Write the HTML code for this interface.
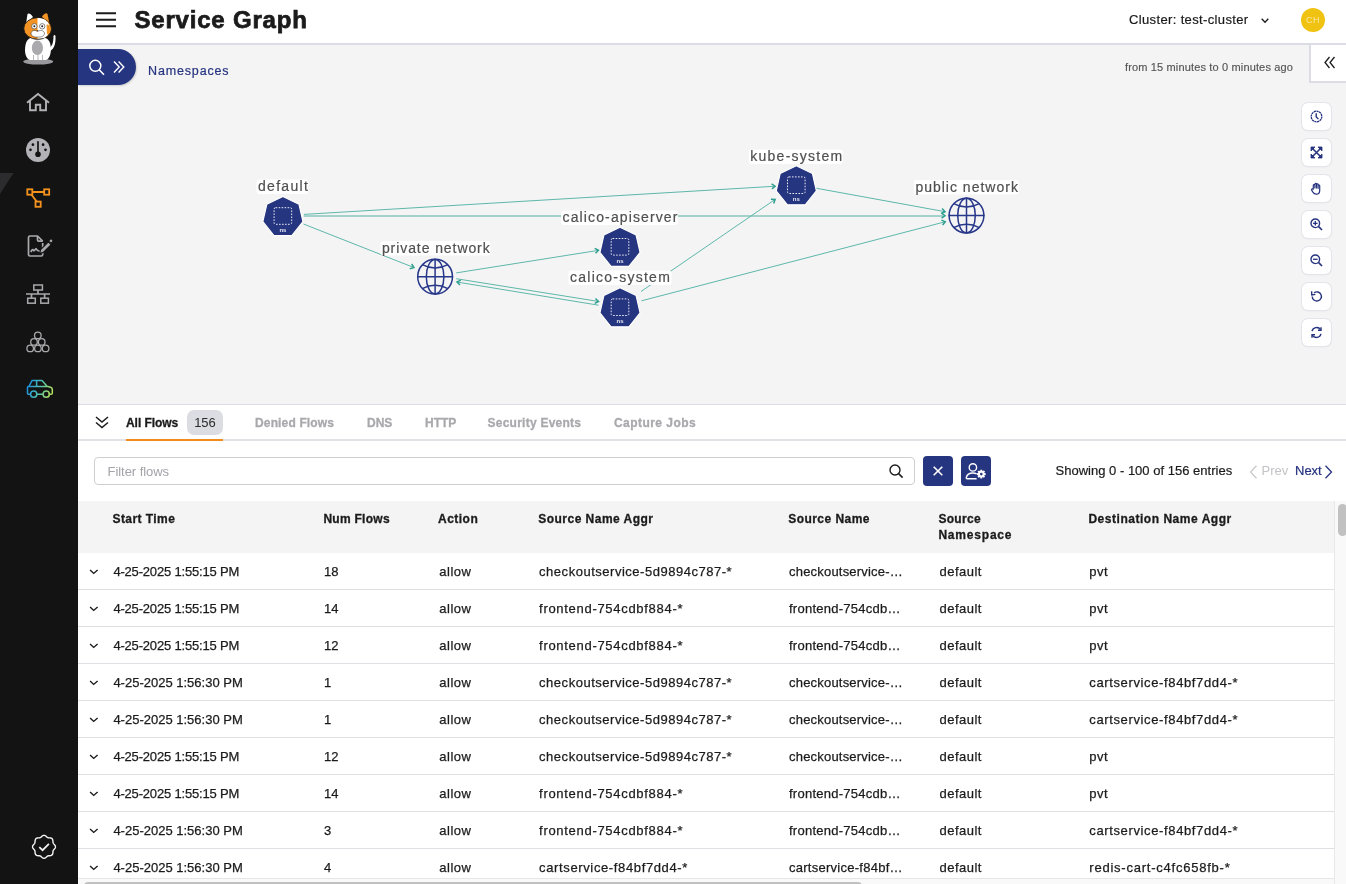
<!DOCTYPE html>
<html><head><meta charset="utf-8">
<style>
*{box-sizing:border-box;margin:0;padding:0}
html,body{width:1346px;height:884px;overflow:hidden;background:#fff;font-family:"Liberation Sans",sans-serif;color:#1b1b1b}
.a{position:absolute;white-space:nowrap}
#side{position:absolute;left:0;top:0;width:78px;height:884px;background:#131313}
#hdr{position:absolute;z-index:2;left:78px;top:0;width:1268px;height:45px;background:#fff;border-bottom:2px solid #dcdce4}
#graph{position:absolute;left:78px;top:44px;width:1268px;height:360px;background:#f4f4f4}
#tabs{position:absolute;left:78px;top:404px;width:1268px;height:37px;background:#fff;border-top:1.5px solid #dcdce4;border-bottom:2px solid #e2e2e6}
.tab{position:absolute;top:10.5px;font-size:12px;font-weight:700;color:#a9a9ad;-webkit-text-stroke:0.3px currentColor}
.btn{position:absolute;left:1301px;width:29px;height:27px;background:#fff;border-radius:6px;box-shadow:0 0 0 1px #e4e4ea,0 1px 2px rgba(0,0,0,.08)}
.btn svg{position:absolute;left:8px;top:7px}
#thead{position:absolute;left:78px;top:501px;width:1256px;height:52px;background:#f4f4f4}
.th{position:absolute;font-size:12px;font-weight:700;color:#1b1b1b;line-height:16px;-webkit-text-stroke:0.3px #1b1b1b}
.row{position:absolute;left:78px;width:1256px;height:37px;border-bottom:1.5px solid #e0e0e4;background:#fff}
.td{position:absolute;top:11px;font-size:13px;color:#1b1b1b;-webkit-text-stroke:0.25px #1b1b1b}
.chev{position:absolute;left:11px;top:15px}
</style></head><body><div style="position:absolute;left:0;top:0;width:1346px;height:884px;will-change:transform">

<div id="side"><svg width="78" height="884" viewBox="0 0 78 884" style="position:absolute;left:0;top:0">
<defs><linearGradient id="cg" gradientUnits="userSpaceOnUse" x1="28" y1="384" x2="52" y2="392"><stop offset="0" stop-color="#1a90e4"/><stop offset="0.5" stop-color="#52bfb0"/><stop offset="1" stop-color="#b2e35c"/></linearGradient></defs>
<!-- cat -->
<ellipse cx="38.2" cy="61.6" rx="15" ry="3" fill="#9a9a9e"/>
<path d="M30 60 C24 58 24.5 48 26 43 C27.5 38.5 31 37 38 37 C45 37 48.5 38.5 50 43 C51.5 48 51.5 58 46 60 Z" fill="#fff"/>
<path d="M48.5 52 C53 50 56 46 55.5 36 C55 34.5 54 34.5 53.5 36 C53.5 43 52 47 48 49 Z" fill="#fff"/>
<ellipse cx="37.4" cy="47.8" rx="5.6" ry="7.2" fill="#a9a9ae"/>
<path d="M33.5 60 L33.5 55 M38 60 L38 55 M42.5 60 L42.5 55" stroke="#888" stroke-width="0.6"/>
<path d="M26 24 L27.5 14 C28.5 13 30.5 13 33 17 Z" fill="#fff"/>
<path d="M42 17 C44 13 46.5 12.5 47.5 14 L49.5 24 Z" fill="#f39324"/>
<ellipse cx="37.6" cy="28.5" rx="13.8" ry="10.8" fill="#f39324" stroke="#131313" stroke-width="0.8"/>
<path d="M37.5 18 C42 18 47 19.5 48.8 24 C50 28 49.5 33 47 36 C44 38.5 40 39 37.5 38.5 Z" fill="#fff"/>
<path d="M46.5 24.5 C49.5 24 51 27.5 50.5 31 C50 33.5 48.5 34.8 47 34 Z" fill="#f39324"/>
<path d="M31 33 C32 30 35 30 37.5 31.5 C40 30 43.5 30 44.5 33 C44.5 36 41.5 37.5 37.5 37 C33.5 37.5 31 36 31 33 Z" fill="#fff" stroke="#222" stroke-width="0.5"/>
<circle cx="34.3" cy="26.3" r="2.7" fill="#fff" stroke="#333" stroke-width="0.6"/><circle cx="34.3" cy="26.3" r="1" fill="#222"/>
<circle cx="42.2" cy="26.3" r="2.7" fill="#fff" stroke="#333" stroke-width="0.6"/><circle cx="42.2" cy="26.3" r="1" fill="#222"/>
<path d="M36.5 30.3 L38.5 30.3 L37.5 31.5 Z" fill="#222"/>
<path d="M33 38.5 C36 39.5 40 39.5 43 38.5" stroke="#555" stroke-width="0.7" fill="none"/>
<!-- active marker -->
<path d="M0 173 L13.6 173 L0 194 Z" fill="#2c2c2e"/>
<!-- home -->
<path d="M27 102.8 L38 94 L49 102.8 M30 100.6 V110.3 H35.8 V104.8 H40.2 V110.3 H46 V100.6" fill="none" stroke="#b2b2b6" stroke-width="1.9" stroke-linejoin="miter"/>
<!-- gauge -->
<circle cx="38" cy="150" r="12" fill="#b3b3b7"/>
<path d="M38 141.8 V153" stroke="#131313" stroke-width="1.7" stroke-linecap="round"/>
<circle cx="38" cy="154.3" r="2.8" fill="#131313"/>
<circle cx="32.9" cy="144.7" r="1.35" fill="#131313"/><circle cx="43.1" cy="144.7" r="1.35" fill="#131313"/>
<circle cx="30.5" cy="149.8" r="1.35" fill="#131313"/><circle cx="45.5" cy="149.8" r="1.35" fill="#131313"/>
<!-- service graph (active, orange) -->
<g fill="none" stroke="#f5921e" stroke-width="1.8">
<rect x="27.3" y="189.3" width="5" height="5.4"/>
<rect x="44.2" y="189.3" width="5" height="5.4"/>
<rect x="35.5" y="201.6" width="5.2" height="5.2"/>
<path d="M32.3 192 H44.2 M31.5 194.7 L36.8 201.6"/>
</g>
<!-- doc sign -->
<g fill="none" stroke="#a9a9ad" stroke-width="1.7" stroke-linejoin="round">
<path d="M42.7 243 V254.6 C42.7 255.6 42.2 256 41.2 256 H30 C29 256 28.5 255.5 28.5 254.5 V237.5 C28.5 236.5 29 236 30 236 H37.5 L42.7 241.2"/>
<path d="M37.5 236 V240 C37.5 240.8 37.9 241.2 38.7 241.2 H42.7"/>
<path d="M30.8 252 C31.8 250 32.5 248.7 33.5 250.2 C34.3 251.5 35 249.3 36 248.7 C37 250.5 38 251.5 40 251.2"/>
</g>
<path d="M39.6 253.6 L40.6 249.6 L48.4 241.8 L51.2 244.6 L43.4 252.4 Z" fill="#a9a9ad" stroke="#131313" stroke-width="1.2" stroke-linejoin="round"/>
<path d="M49.3 240.9 L50.3 239.9 C50.8 239.4 51.4 239.4 51.9 239.9 L52 240 C52.5 240.5 52.5 241.1 52 241.6 L51 242.6 Z" fill="#a9a9ad"/>
<!-- network -->
<g fill="none" stroke="#a9a9ad" stroke-width="1.5">
<rect x="33.8" y="285" width="8.6" height="5"/>
<rect x="27.7" y="298.2" width="7.6" height="5"/>
<rect x="40.8" y="298.2" width="7.6" height="5"/>
<path d="M38 290 V294 M26 294 H50 M31.5 294 V298.2 M44.6 294 V298.2" stroke-width="1.7"/>
</g>
<!-- pyramid circles -->
<g fill="none" stroke="#a9a9ad" stroke-width="1.3">
<circle cx="37.8" cy="335.4" r="3.3"/>
<circle cx="34" cy="341.9" r="3.3"/><circle cx="41.7" cy="341.9" r="3.3"/>
<circle cx="30.2" cy="348.4" r="3.3"/><circle cx="37.9" cy="348.4" r="3.3"/><circle cx="45.6" cy="348.4" r="3.3"/>
</g>
<!-- car -->
<g fill="none" stroke="url(#cg)" stroke-width="1.5" stroke-linejoin="round">
<path d="M30.5 394.3 H28.5 C27.8 394.3 27.5 394 27.5 393.3 V387.5 C27.5 386.8 28 386.3 29 386.3 L32 380.5 H42 L47 386.3 L50.5 387.3 C51.8 387.7 52.3 388.5 52.3 389.5 V393 C52.3 393.8 51.8 394.3 51 394.3 H49.3 M37 394.3 H43"/>
<path d="M29 386.6 H47 M36.6 380.5 V386.6"/>
<circle cx="33.7" cy="394.2" r="3.1"/><circle cx="46.2" cy="394.2" r="3.1"/>
</g>
<!-- badge check -->
<path d="M44.00 835.35 L44.45 835.40 L44.89 835.53 L45.31 835.74 L45.71 836.00 L46.09 836.31 L46.44 836.62 L46.78 836.93 L47.12 837.20 L47.46 837.43 L47.81 837.61 L48.18 837.73 L48.58 837.81 L49.01 837.85 L49.47 837.87 L49.94 837.90 L50.43 837.96 L50.90 838.05 L51.34 838.20 L51.75 838.42 L52.10 838.70 L52.38 839.05 L52.60 839.46 L52.75 839.90 L52.84 840.37 L52.90 840.86 L52.93 841.33 L52.95 841.79 L52.99 842.22 L53.07 842.62 L53.19 842.99 L53.37 843.34 L53.60 843.68 L53.87 844.02 L54.18 844.36 L54.49 844.71 L54.80 845.09 L55.06 845.49 L55.27 845.91 L55.40 846.35 L55.45 846.80 L55.40 847.25 L55.27 847.69 L55.06 848.11 L54.80 848.51 L54.49 848.89 L54.18 849.24 L53.87 849.58 L53.60 849.92 L53.37 850.26 L53.19 850.61 L53.07 850.98 L52.99 851.38 L52.95 851.81 L52.93 852.27 L52.90 852.74 L52.84 853.23 L52.75 853.70 L52.60 854.14 L52.38 854.55 L52.10 854.90 L51.75 855.18 L51.34 855.40 L50.90 855.55 L50.43 855.64 L49.94 855.70 L49.47 855.73 L49.01 855.75 L48.58 855.79 L48.18 855.87 L47.81 855.99 L47.46 856.17 L47.12 856.40 L46.78 856.67 L46.44 856.98 L46.09 857.29 L45.71 857.60 L45.31 857.86 L44.89 858.07 L44.45 858.20 L44.00 858.25 L43.55 858.20 L43.11 858.07 L42.69 857.86 L42.29 857.60 L41.91 857.29 L41.56 856.98 L41.22 856.67 L40.88 856.40 L40.54 856.17 L40.19 855.99 L39.82 855.87 L39.42 855.79 L38.99 855.75 L38.53 855.73 L38.06 855.70 L37.57 855.64 L37.10 855.55 L36.66 855.40 L36.25 855.18 L35.90 854.90 L35.62 854.55 L35.40 854.14 L35.25 853.70 L35.16 853.23 L35.10 852.74 L35.07 852.27 L35.05 851.81 L35.01 851.38 L34.93 850.98 L34.81 850.61 L34.63 850.26 L34.40 849.92 L34.13 849.58 L33.82 849.24 L33.51 848.89 L33.20 848.51 L32.94 848.11 L32.73 847.69 L32.60 847.25 L32.55 846.80 L32.60 846.35 L32.73 845.91 L32.94 845.49 L33.20 845.09 L33.51 844.71 L33.82 844.36 L34.13 844.02 L34.40 843.68 L34.63 843.34 L34.81 842.99 L34.93 842.62 L35.01 842.22 L35.05 841.79 L35.07 841.33 L35.10 840.86 L35.16 840.37 L35.25 839.90 L35.40 839.46 L35.62 839.05 L35.90 838.70 L36.25 838.42 L36.66 838.20 L37.10 838.05 L37.57 837.96 L38.06 837.90 L38.53 837.87 L38.99 837.85 L39.42 837.81 L39.82 837.73 L40.19 837.61 L40.54 837.43 L40.88 837.20 L41.22 836.93 L41.56 836.62 L41.91 836.31 L42.29 836.00 L42.69 835.74 L43.11 835.53 L43.55 835.40 L44.00 835.35 Z" fill="none" stroke="#f4f4f4" stroke-width="1.4" stroke-linejoin="round"/>
<path d="M39.3 847.2 L42.6 850.2 L48.9 843.8" fill="none" stroke="#f4f4f4" stroke-width="1.7"/>
</svg></div>
<div id="hdr">
<svg class="a" style="left:18px;top:12px" width="20" height="16" viewBox="0 0 20 16"><path d="M0 1.3H20M0 7.8H20M0 14.3H20" stroke="#1b1b1b" stroke-width="2"/></svg>
<div class="a" style="left:56.5px;top:6px;font-size:24px;font-weight:700;letter-spacing:0.8px;color:#1b1b1b;line-height:28px;-webkit-text-stroke:0.75px #1b1b1b">Service Graph</div>
<div class="a" style="left:1051px;top:12px;font-size:13px;letter-spacing:0.36px;color:#1b1b1b;line-height:16px;-webkit-text-stroke:0.2px #1b1b1b">Cluster: test-cluster</div>
<svg class="a" style="left:1183px;top:17.5px" width="8" height="6" viewBox="0 0 8 6"><path d="M0.7 0.7L4 4.2L7.3 0.7" fill="none" stroke="#1b1b1b" stroke-width="1.3"/></svg>
<div class="a" style="left:1223px;top:8px;width:24px;height:24px;border-radius:50%;background:#f0c312;color:#f9e7a0;font-size:9px;letter-spacing:0.4px;line-height:24px;text-align:center">CH</div>
</div>
<div id="graph"><!--G--><svg style="position:absolute;left:0;top:0" width="1268" height="360" viewBox="78 44 1268 360">
<path d="M303.9 214.4 L774.1 186.3" stroke="#5db7aa" stroke-width="1.0" fill="none"/><path d="M771.9 188.9 L775.1 186.2 L771.6 183.9" stroke="#2f9f8f" stroke-width="1.5" fill="none" stroke-linejoin="miter"/><path d="M303.7 215.9 H943" stroke="#a3d2cb" stroke-width="2"/><path d="M941.6 218.2 L945.0 215.7 L941.6 213.2" stroke="#2f9f8f" stroke-width="1.5" fill="none" stroke-linejoin="miter"/><path d="M303.5 224.0 L413.0 267.2" stroke="#5db7aa" stroke-width="1.0" fill="none"/><path d="M409.8 268.7 L413.9 267.6 L411.7 264.0" stroke="#2f9f8f" stroke-width="1.5" fill="none" stroke-linejoin="miter"/><path d="M456.2 272.9 L597.5 250.5" stroke="#5db7aa" stroke-width="1.0" fill="none"/><path d="M595.5 253.3 L598.5 250.3 L594.7 248.4" stroke="#2f9f8f" stroke-width="1.5" fill="none" stroke-linejoin="miter"/><path d="M456.2 278.7 L597.5 301.3" stroke="#5db7aa" stroke-width="1.0" fill="none"/><path d="M594.7 303.4 L598.5 301.5 L595.5 298.5" stroke="#2f9f8f" stroke-width="1.5" fill="none" stroke-linejoin="miter"/><path d="M598.5 305.2 L458.0 282.2" stroke="#5db7aa" stroke-width="1.0" fill="none"/><path d="M460.8 280.1 L457.0 282.0 L460.0 285.0" stroke="#2f9f8f" stroke-width="1.5" fill="none" stroke-linejoin="miter"/><path d="M641.0 291.5 L774.3 200.0" stroke="#5db7aa" stroke-width="1.0" fill="none"/><path d="M773.7 203.4 L775.1 199.4 L770.9 199.3" stroke="#2f9f8f" stroke-width="1.5" fill="none" stroke-linejoin="miter"/><path d="M641.5 300.8 L944.3 222.0" stroke="#5db7aa" stroke-width="1.0" fill="none"/><path d="M942.6 225.0 L945.3 221.7 L941.4 220.1" stroke="#2f9f8f" stroke-width="1.5" fill="none" stroke-linejoin="miter"/><path d="M815.0 188.0 L944.0 211.5" stroke="#5db7aa" stroke-width="1.0" fill="none"/><path d="M941.2 213.5 L945.0 211.7 L942.1 208.6" stroke="#2f9f8f" stroke-width="1.5" fill="none" stroke-linejoin="miter"/>
<rect x="256.5" y="179.5" width="52" height="14.5" rx="3" fill="#fff" fill-opacity="0.95"/>
<text x="258" y="191" font-size="14" fill="#505050" stroke="#505050" stroke-width="0.2" letter-spacing="1.3" font-family="Liberation Sans">default</text><rect x="748.8" y="149.5" width="94" height="14.5" rx="3" fill="#fff" fill-opacity="0.95"/>
<text x="750.3" y="161" font-size="14" fill="#505050" stroke="#505050" stroke-width="0.2" letter-spacing="1.25" font-family="Liberation Sans">kube-system</text><rect x="913.9" y="180.0" width="105" height="14.5" rx="3" fill="#fff" fill-opacity="0.95"/>
<text x="915.4" y="191.5" font-size="14" fill="#505050" stroke="#505050" stroke-width="0.2" letter-spacing="1.0" font-family="Liberation Sans">public network</text><rect x="380.4" y="241.0" width="110" height="14.5" rx="3" fill="#fff" fill-opacity="0.95"/>
<text x="381.9" y="252.5" font-size="14" fill="#505050" stroke="#505050" stroke-width="0.2" letter-spacing="0.92" font-family="Liberation Sans">private network</text><rect x="561.1" y="210.5" width="117" height="14.5" rx="3" fill="#fff" fill-opacity="0.95"/>
<text x="562.6" y="222" font-size="14" fill="#505050" stroke="#505050" stroke-width="0.2" letter-spacing="1.12" font-family="Liberation Sans">calico-apiserver</text><rect x="568.5" y="270.5" width="103" height="14.5" rx="3" fill="#fff" fill-opacity="0.95"/>
<text x="570" y="282" font-size="14" fill="#505050" stroke="#505050" stroke-width="0.2" letter-spacing="1.25" font-family="Liberation Sans">calico-system</text>
<path d="M282.90 196.50 L299.01 204.26 L302.98 221.68 L291.84 235.66 L273.96 235.66 L262.82 221.68 L266.79 204.26 Z" fill="#263580" stroke="#fff" stroke-width="1.2" stroke-linejoin="round"/>
<rect x="274.1" y="207.7" width="17.6" height="16.6" rx="1.5" fill="none" stroke="#e8eaf4" stroke-width="1" stroke-dasharray="1.6 1.4"/>
<text x="282.9" y="232.1" font-size="6" font-weight="700" fill="#e6e8f2" text-anchor="middle" font-family="Liberation Sans">ns</text><path d="M796.30 165.70 L812.41 173.46 L816.38 190.88 L805.24 204.86 L787.36 204.86 L776.22 190.88 L780.19 173.46 Z" fill="#263580" stroke="#fff" stroke-width="1.2" stroke-linejoin="round"/>
<rect x="787.5" y="176.9" width="17.6" height="16.6" rx="1.5" fill="none" stroke="#e8eaf4" stroke-width="1" stroke-dasharray="1.6 1.4"/>
<text x="796.3" y="201.3" font-size="6" font-weight="700" fill="#e6e8f2" text-anchor="middle" font-family="Liberation Sans">ns</text><path d="M620.00 227.30 L636.11 235.06 L640.08 252.48 L628.94 266.46 L611.06 266.46 L599.92 252.48 L603.89 235.06 Z" fill="#263580" stroke="#fff" stroke-width="1.2" stroke-linejoin="round"/>
<rect x="611.2" y="238.5" width="17.6" height="16.6" rx="1.5" fill="none" stroke="#e8eaf4" stroke-width="1" stroke-dasharray="1.6 1.4"/>
<text x="620.0" y="262.9" font-size="6" font-weight="700" fill="#e6e8f2" text-anchor="middle" font-family="Liberation Sans">ns</text><path d="M620.00 287.70 L636.11 295.46 L640.08 312.88 L628.94 326.86 L611.06 326.86 L599.92 312.88 L603.89 295.46 Z" fill="#263580" stroke="#fff" stroke-width="1.2" stroke-linejoin="round"/>
<rect x="611.2" y="298.9" width="17.6" height="16.6" rx="1.5" fill="none" stroke="#e8eaf4" stroke-width="1" stroke-dasharray="1.6 1.4"/>
<text x="620.0" y="323.3" font-size="6" font-weight="700" fill="#e6e8f2" text-anchor="middle" font-family="Liberation Sans">ns</text><g fill="none" stroke="#27378a" stroke-width="1.5">
<circle cx="435.1" cy="276.7" r="17.4"/>
<ellipse cx="435.1" cy="276.7" rx="8.8" ry="17.25"/>
<path d="M435.1 258.7 V294.7 M417.1 276.7 H453.1"/>
<path d="M422.3 264.7 Q435.1 271.5 447.90000000000003 264.7"/>
<path d="M422.3 288.7 Q435.1 281.9 447.90000000000003 288.7"/>
</g><g fill="none" stroke="#27378a" stroke-width="1.5">
<circle cx="966.5" cy="215.6" r="17.4"/>
<ellipse cx="966.5" cy="215.6" rx="8.8" ry="17.25"/>
<path d="M966.5 197.6 V233.6 M948.5 215.6 H984.5"/>
<path d="M953.7 203.6 Q966.5 210.4 979.3 203.6"/>
<path d="M953.7 227.6 Q966.5 220.79999999999998 979.3 227.6"/>
</g>
</svg><!--/G-->
<div class="a" style="left:0;top:5px;width:58px;height:36px;background:#263580;border-radius:0 18px 18px 0;box-shadow:1px 1px 2px rgba(0,0,0,.15)">
<svg class="a" style="left:10px;top:10px" width="40" height="18" viewBox="0 0 40 18"><circle cx="7.3" cy="6.8" r="5.5" fill="none" stroke="#fff" stroke-width="1.5"/><path d="M11.2 10.8 L16 15.8" stroke="#fff" stroke-width="1.6"/><path d="M26 2.4 L31.2 8 L26 13.6 M30.6 2.4 L35.8 8 L30.6 13.6" fill="none" stroke="#fff" stroke-width="1.4"/></svg>
</div>
<div class="a" style="left:70px;top:20px;font-size:12.5px;letter-spacing:0.85px;color:#26337f;line-height:15px;-webkit-text-stroke:0.2px #26337f">Namespaces</div>
<div class="a" style="left:1047px;top:16.2px;font-size:11px;letter-spacing:0.15px;color:#555;line-height:14px;-webkit-text-stroke:0.15px #555">from 15 minutes to 0 minutes ago</div>
<div class="btn" style="left:1224px;top:58.5px"><svg width="13" height="13" viewBox="0 0 13 13"><circle cx="6.5" cy="6.5" r="5.3" fill="none" stroke="#26337f" stroke-width="1.3" stroke-dasharray="2.2 0.5"/><path d="M6.2 3.3 V7 L8.4 9" fill="none" stroke="#26337f" stroke-width="1.4"/></svg></div>
<div class="btn" style="left:1224px;top:94.5px"><svg width="13" height="13" viewBox="0 0 13 13"><path d="M2 2 L11 11 M11 2 L2 11" stroke="#26337f" stroke-width="1.5"/><path d="M1 1 H5 L1 5 Z M12 1 V5 L8 1 Z M1 12 V8 L5 12 Z M12 12 H8 L12 8 Z" fill="#26337f" stroke="#26337f" stroke-width="0.8" stroke-linejoin="round"/></svg></div>
<div class="btn" style="left:1224px;top:130.5px"><svg width="13" height="13" viewBox="0 0 13 13"><path d="M3.3 7 V3.5 C3.3 2.4 4.9 2.4 4.9 3.5 V6 V2.2 C4.9 1.1 6.5 1.1 6.5 2.2 V6 V2.6 C6.5 1.5 8.1 1.5 8.1 2.6 V6.3 V3.8 C8.1 2.8 9.7 2.8 9.7 3.8 V8.5 C9.7 10.8 8.3 12.2 6.3 12.2 C4.5 12.2 3.6 11.3 2.7 9.9 L1.6 8 C1.2 7.2 2.4 6.4 3.1 7.3 Z" fill="none" stroke="#26337f" stroke-width="1.2" stroke-linejoin="round"/></svg></div>
<div class="btn" style="left:1224px;top:166.5px"><svg width="13" height="13" viewBox="0 0 13 13"><circle cx="5.3" cy="5.3" r="4.3" fill="none" stroke="#26337f" stroke-width="1.4"/><path d="M8.4 8.4 L12 12" stroke="#26337f" stroke-width="1.6"/><path d="M3 5.3 H7.6 M5.3 3 V7.6" stroke="#26337f" stroke-width="1.3"/></svg></div>
<div class="btn" style="left:1224px;top:202.5px"><svg width="13" height="13" viewBox="0 0 13 13"><circle cx="5.3" cy="5.3" r="4.3" fill="none" stroke="#26337f" stroke-width="1.4"/><path d="M8.4 8.4 L12 12" stroke="#26337f" stroke-width="1.6"/><path d="M3 5.3 H7.6" stroke="#26337f" stroke-width="1.3"/></svg></div>
<div class="btn" style="left:1224px;top:238.5px"><svg width="13" height="13" viewBox="0 0 13 13"><path d="M2.2 6.5 A4.6 4.6 0 1 0 4 2.8" fill="none" stroke="#26337f" stroke-width="1.4"/><path d="M1.6 1.3 L1.8 5 L5.4 4.4" fill="none" stroke="#26337f" stroke-width="1.4"/></svg></div>
<div class="btn" style="left:1224px;top:274.5px"><svg width="13" height="13" viewBox="0 0 13 13"><path d="M2 5.2 A4.8 4.8 0 0 1 10.6 3.6 M11 7.8 A4.8 4.8 0 0 1 2.4 9.4" fill="none" stroke="#26337f" stroke-width="1.4"/><path d="M11 1.2 V4.2 H8 M2 11.8 V8.8 H5" fill="none" stroke="#26337f" stroke-width="1.4"/></svg></div>
<div class="a" style="left:1231px;top:0;width:37px;height:38.5px;background:#fff;border-left:2px solid #dcdce4;border-bottom:2px solid #dcdce4">
<svg class="a" style="left:13px;top:12px" width="12" height="13" viewBox="0 0 12 13"><path d="M5.5 1 L1 6.5 L5.5 12 M10.5 1 L6 6.5 L10.5 12" fill="none" stroke="#1b1b1b" stroke-width="1.3"/></svg>
</div>
</div>
<div id="tabs">
<svg class="a" style="left:17px;top:11px" width="14" height="13" viewBox="0 0 14 13"><path d="M1 1 L7 6 L13 1 M1 6.5 L7 11.5 L13 6.5" fill="none" stroke="#1b1b1b" stroke-width="1.5"/></svg>
<div class="tab" style="left:48px;color:#1b1b1b;letter-spacing:-0.05px">All Flows</div>
<div class="a" style="left:109px;top:5px;width:36px;height:25px;border-radius:7px;background:#dcdde2;font-size:13px;line-height:25px;text-align:center;color:#2a2a2a">156</div>
<div class="a" style="left:48px;top:33.5px;width:97px;height:2px;background:#f28c1c"></div>
<div class="tab" style="left:177px;letter-spacing:0.15px">Denied Flows</div>
<div class="tab" style="left:289px">DNS</div>
<div class="tab" style="left:347px">HTTP</div>
<div class="tab" style="left:409.5px;letter-spacing:0.25px">Security Events</div>
<div class="tab" style="left:536px;letter-spacing:0.45px">Capture Jobs</div>
</div>
<div class="a" style="left:94px;top:457px;width:821px;height:28px;border:1px solid #cfcfd3;border-radius:4px;background:#fff">
<div class="a" style="left:12.5px;top:6px;font-size:13px;color:#a3a3a8;letter-spacing:-0.05px;line-height:15px">Filter flows</div>
<svg class="a" style="left:794px;top:6px" width="15" height="15" viewBox="0 0 15 15"><circle cx="6" cy="6" r="5" fill="none" stroke="#1b1b1b" stroke-width="1.4"/><path d="M9.6 9.6 L13.6 13.6" stroke="#1b1b1b" stroke-width="1.5"/></svg>
</div>
<div class="a" style="left:923px;top:456px;width:30px;height:30px;border-radius:4px;background:#263580">
<svg class="a" style="left:10px;top:10px" width="10" height="10" viewBox="0 0 10 10"><path d="M0.7 0.7 L9.3 9.3 M9.3 0.7 L0.7 9.3" stroke="#fff" stroke-width="1.6"/></svg>
</div>
<div class="a" style="left:961px;top:456px;width:30px;height:30px;border-radius:4px;background:#263580">
<svg class="a" style="left:4.2px;top:7px" width="21" height="17" viewBox="0 0 21 17"><circle cx="7.9" cy="4.4" r="3.7" fill="none" stroke="#fff" stroke-width="1.4"/><path d="M11.6 15.8 H2.2 C1.5 15.8 1.1 15.3 1.3 14.5 C2 11.7 4.5 10 7.9 10 C9.5 10 10.6 10.3 11.6 10.8" fill="none" stroke="#fff" stroke-width="1.4" stroke-linejoin="round"/><path d="M19.40 9.98 L20.72 10.26 L20.72 11.94 L19.40 12.22 L19.29 12.51 L20.02 13.63 L18.83 14.82 L17.71 14.09 L17.42 14.20 L17.14 15.52 L15.46 15.52 L15.18 14.20 L14.89 14.09 L13.77 14.82 L12.58 13.63 L13.31 12.51 L13.20 12.22 L11.88 11.94 L11.88 10.26 L13.20 9.98 L13.31 9.69 L12.58 8.57 L13.77 7.38 L14.89 8.11 L15.18 8.00 L15.46 6.68 L17.14 6.68 L17.42 8.00 L17.71 8.11 L18.83 7.38 L20.02 8.57 L19.29 9.69 Z" fill="#fff"/><circle cx="16.3" cy="11.1" r="1.3" fill="#263580"/></svg>
</div>
<div class="a" style="left:1055.5px;top:463px;font-size:13px;letter-spacing:0.01px;color:#1b1b1b;line-height:15px;-webkit-text-stroke:0.2px #1b1b1b">Showing 0 - 100 of 156 entries</div>
<svg class="a" style="left:1249px;top:465px" width="9" height="14" viewBox="0 0 9 14"><path d="M7.5 0.8 L1.5 7 L7.5 13.2" fill="none" stroke="#c9c9cd" stroke-width="1.3"/></svg>
<div class="a" style="left:1261.5px;top:463px;font-size:13px;color:#c4c4c8;line-height:15px">Prev</div>
<div class="a" style="left:1295px;top:463px;font-size:13px;color:#26337f;line-height:15px;-webkit-text-stroke:0.2px #26337f">Next</div>
<svg class="a" style="left:1324px;top:465px" width="9" height="14" viewBox="0 0 9 14"><path d="M1.5 0.8 L7.5 7 L1.5 13.2" fill="none" stroke="#26337f" stroke-width="1.3"/></svg>

<div id="thead">
<div class="th" style="left:34.5px;top:9.8px;letter-spacing:0.43px">Start Time</div>
<div class="th" style="left:245.4px;top:9.8px;letter-spacing:0.27px">Num Flows</div>
<div class="th" style="left:360px;top:9.8px;letter-spacing:0.48px">Action</div>
<div class="th" style="left:460.3px;top:9.8px;letter-spacing:0.47px">Source Name Aggr</div>
<div class="th" style="left:710.2px;top:9.8px;letter-spacing:0.46px">Source Name</div>
<div class="th" style="left:860.4px;top:9.8px;letter-spacing:0.3px">Source<br><span style="letter-spacing:0.8px">Namespace</span></div>
<div class="th" style="left:1010.4px;top:9.8px;letter-spacing:0.53px">Destination Name Aggr</div>
</div>
<div class="row" style="top:553px"><svg class="chev" width="11" height="7" viewBox="0 0 11 7"><path d="M1.1 1.9 L4.7 5.4 L8.6 1.9" fill="none" stroke="#1b1b1b" stroke-width="1.4"/></svg><div class="td" style="left:35.4px;letter-spacing:-0.185px">4-25-2025 1:55:15 PM</div><div class="td" style="left:246px;letter-spacing:0.1px">18</div><div class="td" style="left:361.3px;letter-spacing:0.48px">allow</div><div class="td" style="left:461.1px;letter-spacing:0.52px">checkoutservice-5d9894c787-*</div><div class="td" style="left:711px;letter-spacing:0.2px">checkoutservice-…</div><div class="td" style="left:861.6px;letter-spacing:0.47px">default</div><div class="td" style="left:1011.3px;letter-spacing:0.43px">pvt</div></div>
<div class="row" style="top:590px"><svg class="chev" width="11" height="7" viewBox="0 0 11 7"><path d="M1.1 1.9 L4.7 5.4 L8.6 1.9" fill="none" stroke="#1b1b1b" stroke-width="1.4"/></svg><div class="td" style="left:35.4px;letter-spacing:-0.185px">4-25-2025 1:55:15 PM</div><div class="td" style="left:246px;letter-spacing:0.1px">14</div><div class="td" style="left:361.3px;letter-spacing:0.48px">allow</div><div class="td" style="left:461.1px;letter-spacing:0.7px">frontend-754cdbf884-*</div><div class="td" style="left:711px;letter-spacing:0.26px">frontend-754cdb…</div><div class="td" style="left:861.6px;letter-spacing:0.47px">default</div><div class="td" style="left:1011.3px;letter-spacing:0.43px">pvt</div></div>
<div class="row" style="top:627px"><svg class="chev" width="11" height="7" viewBox="0 0 11 7"><path d="M1.1 1.9 L4.7 5.4 L8.6 1.9" fill="none" stroke="#1b1b1b" stroke-width="1.4"/></svg><div class="td" style="left:35.4px;letter-spacing:-0.185px">4-25-2025 1:55:15 PM</div><div class="td" style="left:246px;letter-spacing:0.1px">12</div><div class="td" style="left:361.3px;letter-spacing:0.48px">allow</div><div class="td" style="left:461.1px;letter-spacing:0.7px">frontend-754cdbf884-*</div><div class="td" style="left:711px;letter-spacing:0.26px">frontend-754cdb…</div><div class="td" style="left:861.6px;letter-spacing:0.47px">default</div><div class="td" style="left:1011.3px;letter-spacing:0.43px">pvt</div></div>
<div class="row" style="top:664px"><svg class="chev" width="11" height="7" viewBox="0 0 11 7"><path d="M1.1 1.9 L4.7 5.4 L8.6 1.9" fill="none" stroke="#1b1b1b" stroke-width="1.4"/></svg><div class="td" style="left:35.4px;letter-spacing:0px">4-25-2025 1:56:30 PM</div><div class="td" style="left:246px;letter-spacing:0.1px">1</div><div class="td" style="left:361.3px;letter-spacing:0.48px">allow</div><div class="td" style="left:461.1px;letter-spacing:0.52px">checkoutservice-5d9894c787-*</div><div class="td" style="left:711px;letter-spacing:0.2px">checkoutservice-…</div><div class="td" style="left:861.6px;letter-spacing:0.47px">default</div><div class="td" style="left:1011.3px;letter-spacing:0.63px">cartservice-f84bf7dd4-*</div></div>
<div class="row" style="top:701px"><svg class="chev" width="11" height="7" viewBox="0 0 11 7"><path d="M1.1 1.9 L4.7 5.4 L8.6 1.9" fill="none" stroke="#1b1b1b" stroke-width="1.4"/></svg><div class="td" style="left:35.4px;letter-spacing:0px">4-25-2025 1:56:30 PM</div><div class="td" style="left:246px;letter-spacing:0.1px">1</div><div class="td" style="left:361.3px;letter-spacing:0.48px">allow</div><div class="td" style="left:461.1px;letter-spacing:0.52px">checkoutservice-5d9894c787-*</div><div class="td" style="left:711px;letter-spacing:0.2px">checkoutservice-…</div><div class="td" style="left:861.6px;letter-spacing:0.47px">default</div><div class="td" style="left:1011.3px;letter-spacing:0.63px">cartservice-f84bf7dd4-*</div></div>
<div class="row" style="top:738px"><svg class="chev" width="11" height="7" viewBox="0 0 11 7"><path d="M1.1 1.9 L4.7 5.4 L8.6 1.9" fill="none" stroke="#1b1b1b" stroke-width="1.4"/></svg><div class="td" style="left:35.4px;letter-spacing:-0.185px">4-25-2025 1:55:15 PM</div><div class="td" style="left:246px;letter-spacing:0.1px">12</div><div class="td" style="left:361.3px;letter-spacing:0.48px">allow</div><div class="td" style="left:461.1px;letter-spacing:0.52px">checkoutservice-5d9894c787-*</div><div class="td" style="left:711px;letter-spacing:0.2px">checkoutservice-…</div><div class="td" style="left:861.6px;letter-spacing:0.47px">default</div><div class="td" style="left:1011.3px;letter-spacing:0.43px">pvt</div></div>
<div class="row" style="top:775px"><svg class="chev" width="11" height="7" viewBox="0 0 11 7"><path d="M1.1 1.9 L4.7 5.4 L8.6 1.9" fill="none" stroke="#1b1b1b" stroke-width="1.4"/></svg><div class="td" style="left:35.4px;letter-spacing:-0.185px">4-25-2025 1:55:15 PM</div><div class="td" style="left:246px;letter-spacing:0.1px">14</div><div class="td" style="left:361.3px;letter-spacing:0.48px">allow</div><div class="td" style="left:461.1px;letter-spacing:0.7px">frontend-754cdbf884-*</div><div class="td" style="left:711px;letter-spacing:0.26px">frontend-754cdb…</div><div class="td" style="left:861.6px;letter-spacing:0.47px">default</div><div class="td" style="left:1011.3px;letter-spacing:0.43px">pvt</div></div>
<div class="row" style="top:812px"><svg class="chev" width="11" height="7" viewBox="0 0 11 7"><path d="M1.1 1.9 L4.7 5.4 L8.6 1.9" fill="none" stroke="#1b1b1b" stroke-width="1.4"/></svg><div class="td" style="left:35.4px;letter-spacing:0px">4-25-2025 1:56:30 PM</div><div class="td" style="left:246px;letter-spacing:0.1px">3</div><div class="td" style="left:361.3px;letter-spacing:0.48px">allow</div><div class="td" style="left:461.1px;letter-spacing:0.7px">frontend-754cdbf884-*</div><div class="td" style="left:711px;letter-spacing:0.26px">frontend-754cdb…</div><div class="td" style="left:861.6px;letter-spacing:0.47px">default</div><div class="td" style="left:1011.3px;letter-spacing:0.63px">cartservice-f84bf7dd4-*</div></div>
<div class="row" style="top:849px"><svg class="chev" width="11" height="7" viewBox="0 0 11 7"><path d="M1.1 1.9 L4.7 5.4 L8.6 1.9" fill="none" stroke="#1b1b1b" stroke-width="1.4"/></svg><div class="td" style="left:35.4px;letter-spacing:0px">4-25-2025 1:56:30 PM</div><div class="td" style="left:246px;letter-spacing:0.1px">4</div><div class="td" style="left:361.3px;letter-spacing:0.48px">allow</div><div class="td" style="left:461.1px;letter-spacing:0.63px">cartservice-f84bf7dd4-*</div><div class="td" style="left:711px;letter-spacing:0.26px">cartservice-f84bf…</div><div class="td" style="left:861.6px;letter-spacing:0.47px">default</div><div class="td" style="left:1011.3px;letter-spacing:0.77px">redis-cart-c4fc658fb-*</div></div>
<div class="a" style="left:1334px;top:501px;width:12px;height:383px;background:#f9f9f9;border-left:1px solid #e8e8e8"></div>
<div class="a" style="left:1338px;top:504px;width:9px;height:31.5px;border-radius:4.5px;background:#c1c1c1"></div>
<div class="a" style="left:78px;top:878px;width:1256px;height:6px;background:#f9f9f9;border-top:1px solid #e6e6e6"></div>
<div class="a" style="left:84px;top:881.5px;width:778px;height:8px;border-radius:4px;background:#c1c1c1"></div>


</div></body></html>
